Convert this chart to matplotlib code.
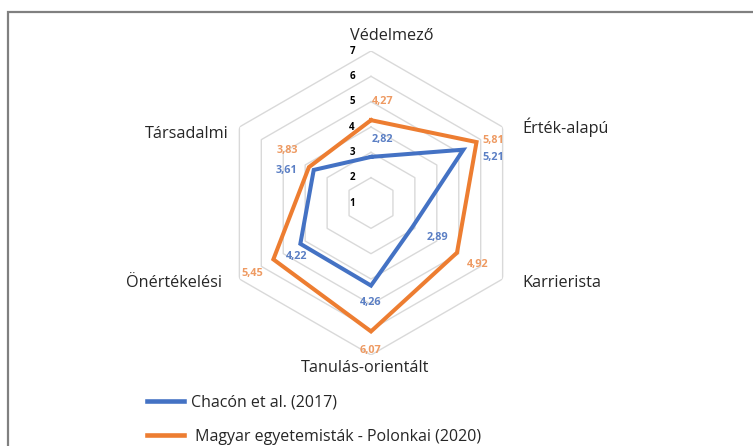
import numpy as np
import matplotlib
matplotlib.use("Agg")
from matplotlib import pyplot as plt
from matplotlib.patches import Rectangle

categories = ['Védelmező', 'Érték-alapú', 'Karrierista', 'Tanulás-orientált', 'Önértékelési', 'Társadalmi']
chacon = [2.82, 5.21, 2.89, 4.26, 4.22, 3.61]
polonkai = [4.27, 5.81, 4.92, 6.07, 5.45, 3.83]
series_names = ['Chacón et al. (2017)', ' Magyar egyetemisták - Polonkai (2020)']
tick_values = [1, 2, 3, 4, 5, 6, 7]

BLUE = '#4472C4'
ORANGE = '#ED7D31'
BLUE_LBL = '#5B7FC4'
ORANGE_LBL = '#EE9A62'
GRID = '#D9D9D9'

plt.rcParams['font.family'] = ['Open Sans', 'DejaVu Sans']

W, H = 753, 446
fig = plt.figure(figsize=(W / 100, H / 100), dpi=100)

# outer frame (runs off the right and bottom edge)
fig.patches.append(Rectangle((8 / W, -0.05), 1.0, (H - 12) / H + 0.05, transform=fig.transFigure,
                             fill=False, edgecolor='#808080', linewidth=1.6))

cx, cy, R = 371, 203, 152
ax = fig.add_axes([(cx - R) / W, (H - cy - R) / H, 2 * R / W, 2 * R / H], projection='polar')
ax.set_theta_zero_location('N')
ax.set_theta_direction(-1)
ax.set_ylim(tick_values[0], tick_values[-1])
ax.set_xticks([])
ax.set_yticks([])
ax.grid(False)
ax.spines['polar'].set_visible(False)
ax.patch.set_alpha(0)

n = len(categories)
theta = np.arange(n) * 2 * np.pi / n
theta_c = np.append(theta, theta[0])

# hexagonal grid
for v in tick_values[1:]:
    ax.plot(theta_c, [v] * (n + 1), color=GRID, linewidth=1.0, zorder=1)

# scale labels
for v in tick_values:
    ax.annotate(str(v), xy=(0, v), xytext=(-19, 0), textcoords='offset pixels',
                ha='center', va='center', fontsize=7, fontweight='bold', color='black', zorder=5)

# series
line_b, = ax.plot(theta_c, chacon + chacon[:1], color=BLUE, linewidth=2.9, zorder=3,
                  solid_joinstyle='miter')
line_o, = ax.plot(theta_c, polonkai + polonkai[:1], color=ORANGE, linewidth=2.9, zorder=3,
                  solid_joinstyle='miter')

# data labels (offset in pixels from each point)
blue_off = [(11, 17), (30, -8), (25, -11), (0, -17), (-4, -13), (-27, -1)]
orange_off = [(12, 19), (17, 2), (21, -12), (0, -19), (-21, -14), (-22, 17)]
for vals, offs, col in [(chacon, blue_off, BLUE_LBL), (polonkai, orange_off, ORANGE_LBL)]:
    for t, v, o in zip(theta, vals, offs):
        ax.annotate(f'{v:.2f}'.replace('.', ','), xy=(t, v), xytext=o, textcoords='offset pixels',
                    ha='center', va='center', fontsize=7.8, fontweight='bold', color=col, zorder=6)

# category labels
cat_pos = [((21, 15), 'center'), ((20, 0), 'left'), ((20, -4), 'left'),
           ((-6, -13), 'center'), ((-17, -4), 'right'), ((-11, -7), 'right')]
for t, name, (o, ha) in zip(theta, categories, cat_pos):
    ax.annotate(name, xy=(t, tick_values[-1]), xytext=o, textcoords='offset pixels',
                ha=ha, va='center', fontsize=11.7, color='#262626', annotation_clip=False)

# legend
fig.legend([line_b, line_o], series_names, loc='upper left',
           bbox_to_anchor=(133 / W, (H - 380) / H), frameon=False, fontsize=11.5,
           handlelength=2.3, labelspacing=1.15, handletextpad=0.45, labelcolor='#262626')
for h in fig.legends[0].get_lines():
    h.set_linewidth(3.3)

fig.savefig('out.png', dpi=100)
